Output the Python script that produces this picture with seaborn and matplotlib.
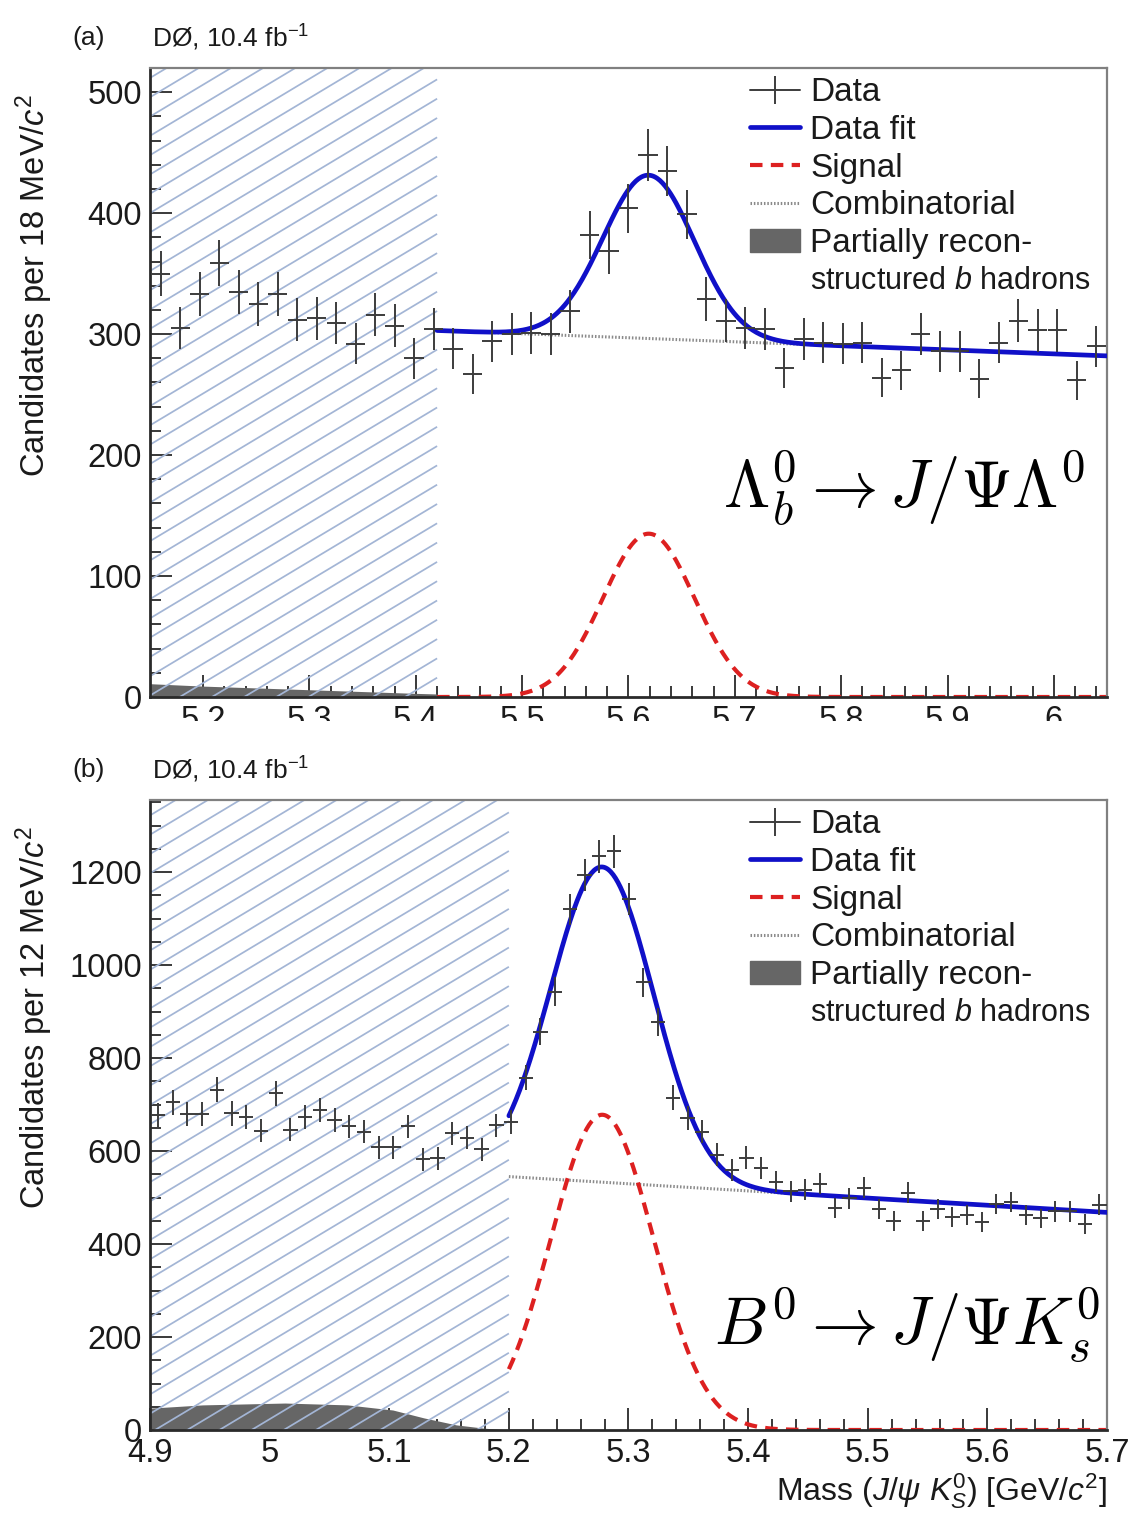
import numpy as np
import matplotlib
matplotlib.use("Agg")
import matplotlib.pyplot as plt
import seaborn as sns
from matplotlib.collections import LineCollection
from matplotlib.patches import Rectangle, Patch
from matplotlib.lines import Line2D
from matplotlib.transforms import IdentityTransform
from matplotlib.ticker import MultipleLocator, FormatStrFormatter

# ---------------- (a) Lambda_b^0 -> J/psi Lambda^0, 18 MeV bins ----------------
lb_first_center, lb_last_center = 5.160, 6.040
lb_counts = [350, 305, 333, 359, 335, 325, 333, 312, 313, 309,
             292, 316, 307, 280, 304, 288, 267, 294, 300, 301,
             300, 319, 382, 369, 404, 448, 435, 399, 329, 311,
             305, 304, 272, 296, 293, 292, 293, 264, 270, 300,
             286, 286, 263, 293, 311, 303, 303, 262, 290]
lb_half_bin = 0.009
lb_xlim = (5.15, 6.05)
lb_ylim = (0, 520)
lb_excluded = (5.15, 5.42)
lb_sig_mean, lb_sig_sigma, lb_sig_peak = 5.619, 0.043, 135
lb_comb_ends = (303, 282)
lb_part_mass = [5.15, 5.20, 5.25, 5.30, 5.35, 5.40, 5.42]
lb_part_vals = [11, 9, 7.5, 6, 4.5, 3, 2.5]
lb_xticks = [5.2, 5.3, 5.4, 5.5, 5.6, 5.7, 5.8, 5.9, 6.0]
lb_yticks = [0, 100, 200, 300, 400, 500]

# ---------------- (b) B^0 -> J/psi K^0_S, 12 MeV bins ----------------
bd_first_center, bd_last_center = 4.9067, 5.6937
bd_counts = [677, 705, 679, 679, 732, 681, 673, 644, 724, 646,
             673, 688, 666, 653, 642, 608, 608, 653, 582, 584,
             638, 629, 604, 655, 662, 758, 857, 943, 1120, 1193,
             1234, 1245, 1142, 963, 877, 715, 672, 642, 592, 560,
             586, 564, 534, 513, 517, 530, 478, 498, 521, 476,
             450, 510, 450, 475, 458, 462, 448, 486, 490, 462,
             455, 470, 470, 443, 485]
bd_half_bin = 0.006
bd_xlim = (4.9, 5.7)
bd_ylim = (0, 1355)
bd_excluded = (4.9, 5.2)
bd_sig_mean, bd_sig_sigma, bd_sig_peak = 5.278, 0.043, 678
bd_comb_ends = (545, 468)
bd_part_mass = [4.90, 4.944, 5.013, 5.065, 5.103, 5.129, 5.156, 5.179, 5.20]
bd_part_vals = [47, 54, 58, 54, 43, 26, 11, 4, 0]
bd_xticks = [4.9, 5.0, 5.1, 5.2, 5.3, 5.4, 5.5, 5.6, 5.7]
bd_yticks = [0, 200, 400, 600, 800, 1000, 1200]

# ---------------- style ----------------
sns.set_theme(style="ticks")
plt.rcParams["font.family"] = ["Liberation Sans", "DejaVu Sans"]
plt.rcParams["mathtext.fontset"] = "custom"
plt.rcParams["mathtext.rm"] = "Liberation Sans"
plt.rcParams["mathtext.it"] = "Liberation Sans:italic"
plt.rcParams["mathtext.bf"] = "Liberation Sans:bold"

DATA_C = "#3c3c3c"
FIT_C = "#1010c8"
SIG_C = "#dd2020"
COMB_C = "#8a8a8a"
PART_C = "#666666"
HATCH_C = "#a3b5d5"
TICK_FS = 23.5
LEG_FS = 24
LAB_FS = 23.5

W, H = 1132, 1513
fig = plt.figure(figsize=(W / 100, H / 100), dpi=100)
fig.patch.set_facecolor("white")


def axes_px(left, top, right, bottom):
    return fig.add_axes([left / W, 1 - bottom / H, (right - left) / W, (bottom - top) / H])


def draw_hatch(ax, x0, x1, ylim, slope=0.6, step=19.3):
    (px0, py0), (px1, py1) = ax.transData.transform([(x0, ylim[0]), (x1, ylim[1])])
    width = px1 - px0
    segs = []
    c = py0 - slope * width - step
    while c < py1 + step:
        segs.append([(px0, c), (px1, c + slope * width)])
        c += step
    lc = LineCollection(segs, colors=HATCH_C, linewidths=1.25,
                        transform=IdentityTransform(), zorder=1.5)
    clip = Rectangle((x0, ylim[0]), x1 - x0, ylim[1] - ylim[0], transform=ax.transData)
    lc.set_clip_path(clip)
    ax.add_collection(lc, autolim=False)


def panel(ax, first, last, counts, half_bin, xlim, ylim, excluded,
          sig, comb_ends, part_mass, part_vals, xticks, yticks,
          ymin_minor, ylabel):
    ax.set_xlim(*xlim)
    ax.set_ylim(*ylim)
    ax.set_facecolor("white")

    centers = np.linspace(first, last, len(counts))
    counts = np.asarray(counts, dtype=float)

    # partially reconstructed b hadrons
    ax.fill_between(part_mass, 0, part_vals, color=PART_C, lw=0, zorder=1)
    # excluded (hatched) mass window
    draw_hatch(ax, excluded[0], excluded[1], ylim)

    # fit components over the fit range
    mgrid = np.linspace(excluded[1], xlim[1], 500)
    mean, sigma, peak = sig
    signal = peak * np.exp(-0.5 * ((mgrid - mean) / sigma) ** 2)
    comb = comb_ends[0] + (comb_ends[1] - comb_ends[0]) * (mgrid - excluded[1]) / (xlim[1] - excluded[1])
    fit = signal + comb

    sns.lineplot(x=mgrid, y=comb, ax=ax, color=COMB_C, lw=2.2,
                 linestyle=(0, (0.5, 0.6)), zorder=2, legend=False)
    sns.lineplot(x=mgrid, y=signal, ax=ax, color=SIG_C, lw=3.0,
                 linestyle=(0, (3, 2)), zorder=2.5, legend=False)
    sns.lineplot(x=mgrid, y=fit, ax=ax, color=FIT_C, lw=3.4, zorder=3, legend=False)

    ax.errorbar(centers, counts, yerr=np.sqrt(counts), xerr=half_bin, fmt="none",
                ecolor=DATA_C, elinewidth=1.4, capsize=0, zorder=4)

    # axis decorations
    for side in ("left", "bottom"):
        ax.spines[side].set_color("#2a2a2a")
        ax.spines[side].set_linewidth(2.0)
    for side in ("top", "right"):
        ax.spines[side].set_color("#808080")
        ax.spines[side].set_linewidth(1.6)
    ax.set_xticks(xticks)
    ax.set_yticks(yticks)
    ax.xaxis.set_major_formatter(FormatStrFormatter("%g"))
    ax.xaxis.set_minor_locator(MultipleLocator(0.02))
    ax.yaxis.set_minor_locator(MultipleLocator(ymin_minor))
    ax.tick_params(which="both", direction="in", color="#2a2a2a", width=1.3,
                   top=False, right=False, labelsize=TICK_FS, labelcolor="#1a1a1a")
    ax.tick_params(which="major", length=16, pad=6)
    ax.tick_params(which="minor", length=8)
    ax.set_xlim(*xlim)
    ax.set_ylim(*ylim)

    ax.set_ylabel(ylabel, fontsize=LAB_FS, color="#1a1a1a")
    ax.yaxis.label.set_horizontalalignment("right")
    ax.yaxis.set_label_coords(-0.099, 1 - 26 / 629)

    handles = [
        Line2D([], [], color=DATA_C, lw=1.4, marker="|", ms=20, mew=1.4),
        Line2D([], [], color=FIT_C, lw=3.4),
        Line2D([], [], color=SIG_C, lw=3.0, linestyle=(0, (3, 2))),
        Line2D([], [], color=COMB_C, lw=2.2, linestyle=(0, (0.5, 0.6))),
        Patch(facecolor=PART_C, edgecolor=PART_C),
        Line2D([], [], lw=0, alpha=0),
    ]
    labels = ["Data", "Data fit", "Signal", "Combinatorial",
              "Partially recon-", "structured $b$ hadrons"]
    leg = ax.legend(handles, labels, loc="upper left", bbox_to_anchor=(0.627, 0.985),
                    frameon=False, fontsize=LEG_FS, handlelength=1.5, handletextpad=0.3,
                    labelspacing=0.2, borderaxespad=0, borderpad=0)
    for t in leg.get_texts():
        t.set_color("#1a1a1a")
    leg.get_texts()[-1].set_fontsize(22)
    leg.set_zorder(6)


ax_a = axes_px(150, 68, 1107, 697)
panel(ax_a, lb_first_center, lb_last_center, lb_counts, lb_half_bin, lb_xlim, lb_ylim,
      lb_excluded, (lb_sig_mean, lb_sig_sigma, lb_sig_peak), lb_comb_ends,
      lb_part_mass, lb_part_vals, lb_xticks, lb_yticks, 20,
      "Candidates per 18 MeV/$c^2$")
ax_a.text(0.977, 0.30, r"$\Lambda_b^0 \rightarrow J/\Psi\Lambda^0$", transform=ax_a.transAxes,
          ha="right", va="baseline", fontsize=48, math_fontfamily="cm", color="black", zorder=7)

ax_b = axes_px(150, 800, 1107, 1430)
panel(ax_b, bd_first_center, bd_last_center, bd_counts, bd_half_bin, bd_xlim, bd_ylim,
      bd_excluded, (bd_sig_mean, bd_sig_sigma, bd_sig_peak), bd_comb_ends,
      bd_part_mass, bd_part_vals, bd_xticks, bd_yticks, 50,
      "Candidates per 12 MeV/$c^2$")
ax_b.text(0.993, 0.135, r"$B^0 \rightarrow J/\Psi K_s^0$", transform=ax_b.transAxes,
          ha="right", va="baseline", fontsize=48, math_fontfamily="cm", color="black", zorder=7)
ax_b.set_xlabel(r"Mass ($J/\psi$ $K^0_S$) [GeV/$c^2$]", fontsize=23, color="#1a1a1a")
ax_b.xaxis.set_label_coords(1.0, -0.066)
ax_b.xaxis.label.set_horizontalalignment("right")

# lower edge of the upper panel's tick labels is cut by the next panel
fig.add_artist(Rectangle((0, 1 - 750 / H), 1, 29 / H, transform=fig.transFigure,
                         facecolor="white", edgecolor="none", zorder=5))

# panel headers
for ytop, tag in ((38, "(a)"), (770, "(b)")):
    fig.text(72 / W, 1 - ytop / H, tag, fontsize=19, va="center", ha="left",
             color="#1a1a1a", zorder=6)
    fig.text(152 / W, 1 - ytop / H, "DØ, 10.4 fb$^{-1}$", fontsize=19, va="center",
             ha="left", color="#1a1a1a", zorder=6)

fig.savefig("out.png", dpi=100, facecolor="white")
